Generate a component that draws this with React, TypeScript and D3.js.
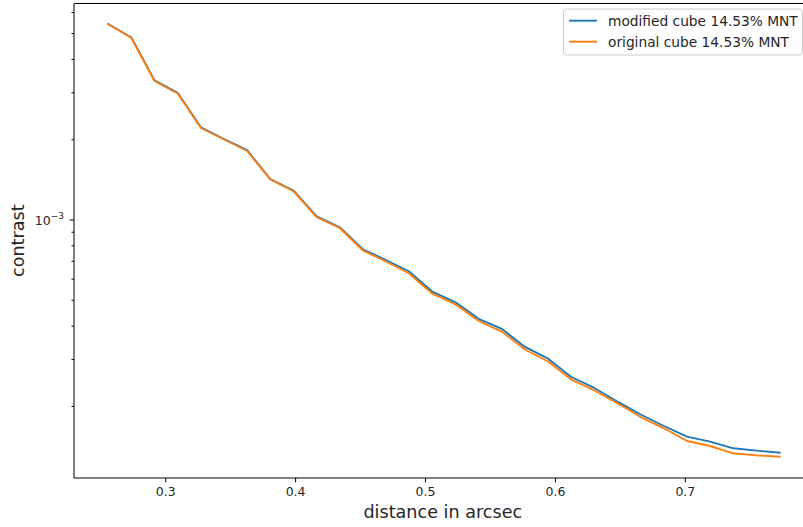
import React from 'react';
import { scaleLinear, scaleLog, line } from 'd3';

// separation (arcsec)
const distances = [
    0.2558, 0.2736, 0.2914, 0.3092, 0.3271, 0.3449, 0.3627, 0.3805, 0.3983, 0.4162,
    0.4340, 0.4518, 0.4696, 0.4874, 0.5053, 0.5231, 0.5409, 0.5587, 0.5765, 0.5944,
    0.6122, 0.6300, 0.6478, 0.6656, 0.6835, 0.7013, 0.7191, 0.7369, 0.7547, 0.7726,
];

const modifiedCube = [
    5.43e-3, 4.835e-3, 3.336e-3, 2.999e-3, 2.226e-3, 2.012e-3, 1.827e-3, 1.424e-3, 1.290e-3, 1.032e-3,
    0.9389e-3, 0.7765e-3, 0.7079e-3, 0.6410e-3, 0.5383e-3, 0.4913e-3, 0.4262e-3, 0.3908e-3, 0.3342e-3, 0.3020e-3,
    0.2578e-3, 0.2345e-3, 0.2083e-3, 0.1865e-3, 0.1689e-3, 0.1540e-3, 0.1475e-3, 0.1393e-3, 0.1365e-3, 0.1341e-3,
];

const originalCube = [
    5.418e-3, 4.813e-3, 3.321e-3, 2.981e-3, 2.213e-3, 2.004e-3, 1.814e-3, 1.419e-3, 1.282e-3, 1.026e-3,
    0.9333e-3, 0.7685e-3, 0.6989e-3, 0.6300e-3, 0.5291e-3, 0.4822e-3, 0.4181e-3, 0.3818e-3, 0.3270e-3, 0.2947e-3,
    0.2522e-3, 0.2295e-3, 0.2055e-3, 0.1825e-3, 0.1656e-3, 0.1484e-3, 0.1421e-3, 0.1334e-3, 0.1311e-3, 0.1296e-3,
];

const xTicks = [0.3, 0.4, 0.5, 0.6, 0.7];
const seriesNames = ['modified cube 14.53% MNT', 'original cube 14.53% MNT'];
const seriesColors = ['#1f77b4', '#ff7f0e'];

export default function App() {
    const width = 803;
    const height = 527;
    const left = 74;
    const right = 811.6;
    const top = 3.5;
    const bottom = 478;
    const font = 'DejaVu Sans, sans-serif';

    const xScale = scaleLinear().domain([0.2294, 0.7972]).range([left, right]);
    const yScale = scaleLog().domain([1.078e-4, 6.483e-3]).range([bottom, top]);

    const pathOf = (vals: number[]) =>
        line<number>()
            .x((_, i) => xScale(distances[i]))
            .y(d => yScale(d))(vals) || '';

    const yTicks = yScale.ticks();
    const isMajor = (t: number) => Math.abs(Math.log10(t) - Math.round(Math.log10(t))) < 1e-6;

    return (
        <div style={{ position: 'absolute', left: 0, top: 0 }}>
            <svg width={width} height={height} style={{ display: 'block', background: '#fff' }} fontFamily={font}>
                <defs>
                    <clipPath id="plot">
                        <rect x={left} y={top} width={right - left} height={bottom - top} />
                    </clipPath>
                </defs>

                {/* lines */}
                <g clipPath="url(#plot)" fill="none" strokeWidth={1.9} strokeLinejoin="round" strokeLinecap="square">
                    <path d={pathOf(modifiedCube)} stroke={seriesColors[0]} />
                    <path d={pathOf(originalCube)} stroke={seriesColors[1]} />
                </g>

                {/* spines */}
                <g stroke="#000" strokeWidth={1} fill="none">
                    <line x1={left} x2={left} y1={top} y2={bottom} />
                    <line x1={left} x2={right} y1={bottom} y2={bottom} />
                    <line x1={left} x2={right} y1={top} y2={top} />
                    <line x1={right} x2={right} y1={top} y2={bottom} />
                </g>

                {/* x ticks */}
                {xTicks.map(t => (
                    <g key={t}>
                        <line x1={xScale(t)} x2={xScale(t)} y1={bottom} y2={bottom + 4.4} stroke="#000" strokeWidth={1} />
                        <text x={xScale(t)} y={bottom + 18} textAnchor="middle" fontSize={12.5} fill="#262626">
                            {t.toFixed(1)}
                        </text>
                    </g>
                ))}

                {/* y ticks */}
                {yTicks.map(t => (
                    <line
                        key={t}
                        x1={left - (isMajor(t) ? 4.4 : 2.5)}
                        x2={left}
                        y1={yScale(t)}
                        y2={yScale(t)}
                        stroke="#000"
                        strokeWidth={1}
                    />
                ))}
                {yTicks.filter(isMajor).map(t => (
                    <text key={'l' + t} x={left - 10} y={yScale(t) + 4.5} textAnchor="end" fontSize={12.5} fill="#262626">
                        10
                        <tspan fontSize={9} dy={-5.5}>{'\u2212' + Math.abs(Math.round(Math.log10(t)))}</tspan>
                    </text>
                ))}

                {/* axis titles */}
                <text x={(left + right) / 2} y={517.5} textAnchor="middle" fontSize={17.6} fill="#262626">
                    distance in arcsec
                </text>
                <text
                    x={24}
                    y={(top + bottom) / 2}
                    textAnchor="middle"
                    fontSize={17.6}
                    fill="#262626"
                    transform={`rotate(-90, 24, ${(top + bottom) / 2})`}
                >
                    contrast
                </text>

                {/* legend */}
                <rect x={563.5} y={9} width={239} height={46} rx={3} fill="#fff" fillOpacity={0.8} stroke="#cccccc" strokeWidth={1} />
                {seriesNames.map((name, i) => (
                    <g key={name}>
                        <line x1={569} x2={597} y1={20.7 + i * 21} y2={20.7 + i * 21} stroke={seriesColors[i]} strokeWidth={1.9} />
                        <text x={608} y={20.7 + i * 21 + 4.8} fontSize={13.75} fill="#262626">
                            {name}
                        </text>
                    </g>
                ))}
            </svg>
        </div>
    );
}
